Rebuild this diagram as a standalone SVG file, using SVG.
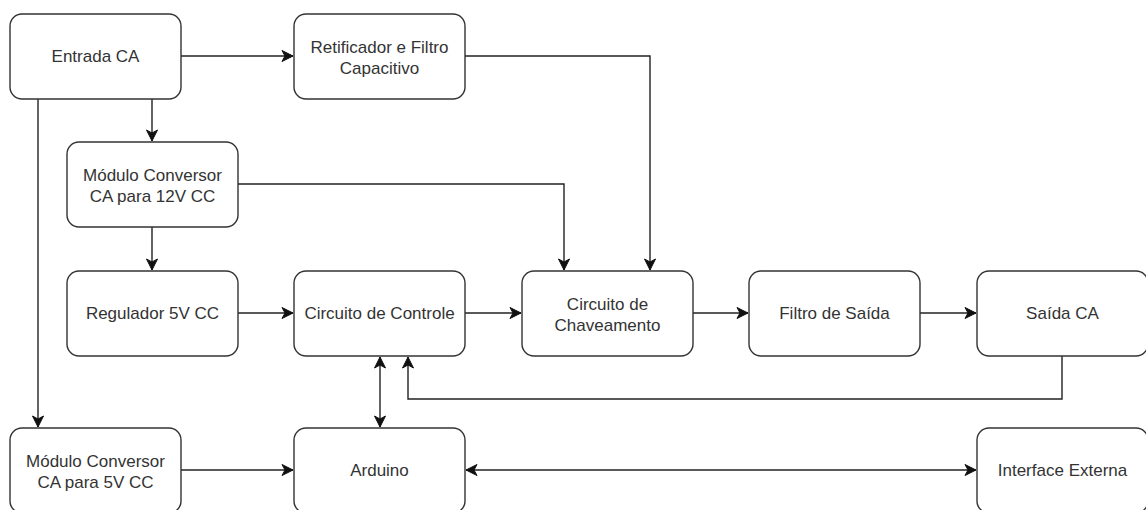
<svg xmlns="http://www.w3.org/2000/svg" width="1146" height="510" viewBox="0 0 1146 510">
<style>
.box{fill:#fff;stroke:#333;stroke-width:1.4}
.lbl{font-family:"Liberation Sans",Arial,sans-serif;font-size:17px;fill:#333;text-anchor:middle}
.c{fill:none;stroke:#222;stroke-width:1.4}
</style>
<defs>
<marker id="ah" markerUnits="userSpaceOnUse" markerWidth="14" markerHeight="12" viewBox="-12 -6 14 12" refX="0" refY="0" orient="auto-start-reverse">
<path d="M0,0 L-11,-5.5 L-8,0 L-11,5.5 Z" fill="#111" stroke="#111" stroke-width="1"/>
</marker>
</defs>
<rect width="1146" height="510" fill="#fff"/>
<g id="connectors">
<path class="c" d="M181,56 H293" marker-end="url(#ah)"/>
<path class="c" d="M152,99 V141" marker-end="url(#ah)"/>
<path class="c" d="M38,99 V427" marker-end="url(#ah)"/>
<path class="c" d="M465,56 H650 V270" marker-end="url(#ah)"/>
<path class="c" d="M238,184 H564 V270" marker-end="url(#ah)"/>
<path class="c" d="M152,227 V270" marker-end="url(#ah)"/>
<path class="c" d="M238,313 H293" marker-end="url(#ah)"/>
<path class="c" d="M465,313 H521" marker-end="url(#ah)"/>
<path class="c" d="M693,313 H748" marker-end="url(#ah)"/>
<path class="c" d="M920,313 H976" marker-end="url(#ah)"/>
<path class="c" d="M1062,356 V399 H408 V357" marker-end="url(#ah)"/>
<path class="c" d="M380,357 V427" marker-start="url(#ah)" marker-end="url(#ah)"/>
<path class="c" d="M181,470 H293" marker-end="url(#ah)"/>
<path class="c" d="M466,470 H976" marker-start="url(#ah)" marker-end="url(#ah)"/>
</g>
<g id="entrada"><rect class="box" x="10" y="14" width="171" height="85" rx="12"/><text class="lbl" x="95.5" y="62">Entrada CA</text></g>
<g id="retificador"><rect class="box" x="294" y="14" width="171" height="85" rx="12"/><text class="lbl" x="379.5" y="52.5">Retificador e Filtro</text><text class="lbl" x="379.5" y="73.5">Capacitivo</text></g>
<g id="modulo12"><rect class="box" x="67" y="142" width="171" height="85" rx="12"/><text class="lbl" x="152.5" y="180.5">Módulo Conversor</text><text class="lbl" x="152.5" y="201.5">CA para 12V CC</text></g>
<g id="regulador"><rect class="box" x="67" y="271" width="171" height="85" rx="12"/><text class="lbl" x="152.5" y="319">Regulador 5V CC</text></g>
<g id="controle"><rect class="box" x="294" y="271" width="171" height="85" rx="12"/><text class="lbl" x="379.5" y="319">Circuito de Controle</text></g>
<g id="chaveamento"><rect class="box" x="522" y="271" width="171" height="85" rx="12"/><text class="lbl" x="607.5" y="309.5">Circuito de</text><text class="lbl" x="607.5" y="330.5">Chaveamento</text></g>
<g id="filtro"><rect class="box" x="749" y="271" width="171" height="85" rx="12"/><text class="lbl" x="834.5" y="319">Filtro de Saída</text></g>
<g id="saida"><rect class="box" x="977" y="271" width="171" height="85" rx="12"/><text class="lbl" x="1062.5" y="319">Saída CA</text></g>
<g id="modulo5"><rect class="box" x="10" y="428" width="171" height="85" rx="12"/><text class="lbl" x="95.5" y="466.5">Módulo Conversor</text><text class="lbl" x="95.5" y="487.5">CA para 5V CC</text></g>
<g id="arduino"><rect class="box" x="294" y="428" width="171" height="85" rx="12"/><text class="lbl" x="379.5" y="476">Arduino</text></g>
<g id="interface"><rect class="box" x="977" y="428" width="171" height="85" rx="12"/><text class="lbl" x="1062.5" y="476">Interface Externa</text></g>
</svg>
